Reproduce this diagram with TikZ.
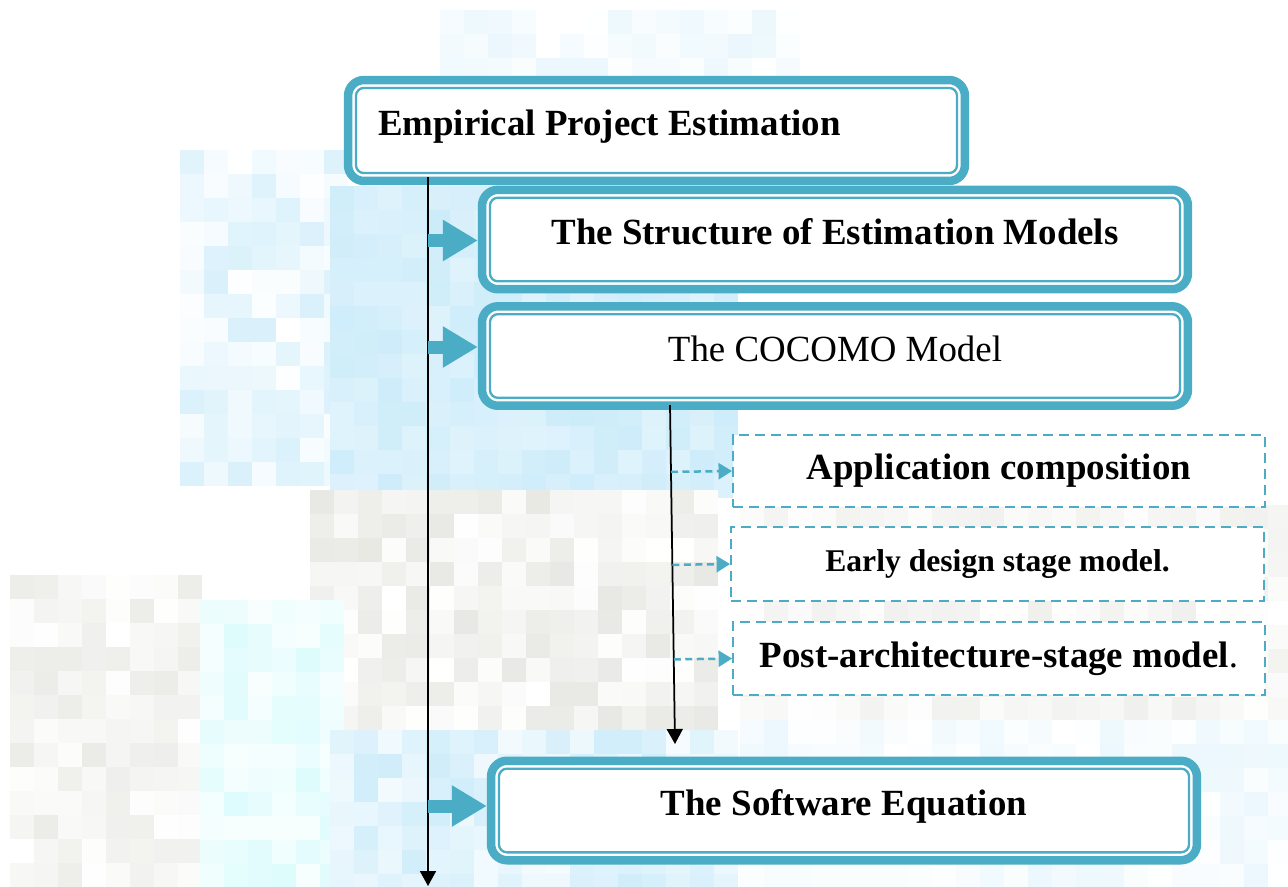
\documentclass[tikz,border=0pt]{standalone}
\usepackage{fontspec}
\setmainfont{Liberation Serif}
\usepackage{xcolor}
\usepackage{tikz}
\usetikzlibrary{
  arrows.meta,
  positioning,
  calc
}

\definecolor{boxteal}{RGB}{75,172,198}
\definecolor{bgblue}{RGB}{205,236,250}
\definecolor{bgcyan}{RGB}{222,252,253}
\definecolor{bggray}{RGB}{222,222,216}

% pixel mosaic behind the chart: x, y, cells across, cells down, colour, min, max shade
\newcommand{\mosaicpatch}[7]{%
  \foreach \i in {1,...,#3}{%
    \foreach \j in {1,...,#4}{%
      \pgfmathtruncatemacro{\shade}{random(#6,#7)}%
      \fill[#5!\shade!white] ({#1+24*(\i-1)},{#2+24*(\j-1)}) rectangle +(24,24);
    }}}

\begin{document}
\begin{tikzpicture}[
  x=0.02cm, y=-0.02cm,
  topic/.style={draw=boxteal, line width=0.17cm, fill=white, rounded corners=0.32cm, inner sep=0pt, minimum width=14.12cm, minimum height=1.99cm, text height=0.5cm, text depth=0.3cm, font=\fontsize{21}{25}\selectfont\bfseries},
  rim/.style={draw=boxteal, line width=0.046cm, rounded corners=0.16cm},
  submodel/.style={draw=boxteal, line width=0.04cm, dash pattern=on 0.2cm off 0.12cm, fill=white, inner sep=0pt, minimum width=10.64cm, minimum height=1.46cm, font=\fontsize{21}{25}\selectfont\bfseries},
  pipe/.style={draw, line width=0.035cm, -{Triangle[length=0.3cm, width=0.32cm]}},
  feed/.style={draw=boxteal, line width=0.26cm, -{Triangle[length=0.7cm, width=0.78cm]}},
  branch/.style={draw=boxteal, line width=0.05cm, dash pattern=on 0.14cm off 0.09cm, -{Triangle[length=0.27cm, width=0.32cm]}},
]
\useasboundingbox (0,0) rectangle (1288,886);
\pgfmathsetseed{7}

% background
\mosaicpatch{440}{10}{15}{3}{bgblue}{0}{40}
\mosaicpatch{180}{150}{7}{14}{bgblue}{0}{75}
\mosaicpatch{330}{186}{17}{13}{bgblue}{65}{100}
\mosaicpatch{310}{490}{17}{10}{bggray}{0}{70}
\mosaicpatch{10}{575}{8}{13}{bggray}{0}{60}
\mosaicpatch{200}{600}{6}{12}{bgcyan}{20}{100}
\mosaicpatch{330}{730}{17}{7}{bgblue}{20}{95}
\mosaicpatch{740}{505}{23}{9}{bggray}{0}{45}
\mosaicpatch{740}{720}{23}{7}{bgblue}{0}{40}

\node[topic, minimum width=12.34cm, minimum height=2.02cm, text width=11.14cm, inner xsep=0.6cm, align=flush left] (epe) at (656.5,130.5) {Empirical Project Estimation};
\node[topic] (sem) at (835,239.5) {The Structure of Estimation Models};
\node[topic, font=\fontsize{21}{25}\selectfont] (cocomo) at (835,356) {The COCOMO Model};
\node[topic] (sweq) at (844,810.5) {The Software Equation};

\node[submodel, minimum height=1.44cm] (appc) at (999,471) {Application composition};
\node[submodel, minimum width=10.66cm, minimum height=1.48cm, font=\fontsize{18}{22}\selectfont\bfseries] (early) at (997.5,564) {Early design stage model.};
\node[submodel] (post) at (999,658.5) {Post-architecture-stage model{\mdseries.}};

\foreach \n in {epe,sem,cocomo,sweq}
  \draw[rim] ([shift={(0.243cm,0.243cm)}]\n.south west) rectangle ([shift={(-0.243cm,-0.243cm)}]\n.north east);

% main spine
\coordinate (spine) at (428,177);
\coordinate (spineEnd) at (428,886);
\draw[pipe] (spine) -- (spineEnd);

\path ([yshift=-0.02cm]sem.west) coordinate (semIn)
      ([yshift=0.18cm]cocomo.west) coordinate (cocIn)
      ([yshift=0.09cm]sweq.west) coordinate (sweIn);
\draw[feed] (spine |- semIn) -- (semIn);
\draw[feed] (spine |- cocIn) -- (cocIn);
\draw[feed] (spine |- sweIn) -- (sweIn);

% COCOMO branch
\coordinate (ctop) at (670,405);
\coordinate (cend) at (675,744);
\draw[pipe] (ctop) -- (cend);
\foreach \m in {appc,early,post}
  \draw[branch] ($(ctop)!(\m.west)!(cend)$) -- (\m.west);
\end{tikzpicture}
\end{document}
